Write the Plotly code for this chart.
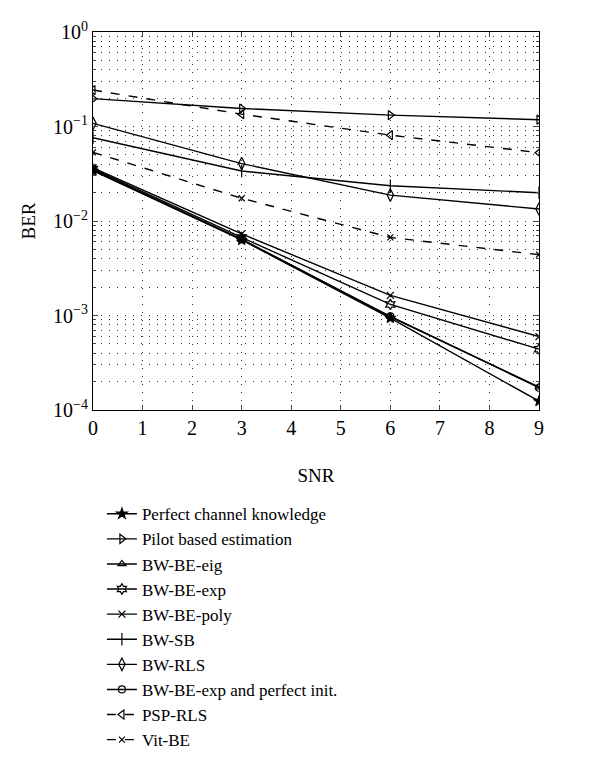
import plotly.graph_objects as go

snr = [0, 3, 6, 9]
perfect = [0.034, 0.0063, 0.00094, 0.000124]
pilot = [0.197, 0.155, 0.132, 0.118]
bw_be_eig = [0.0345, 0.0064, 0.00097, 0.000175]
bw_be_exp = [0.0355, 0.0067, 0.00131, 0.000440]
bw_be_poly = [0.0365, 0.0073, 0.00163, 0.000598]
bw_sb = [0.076, 0.0338, 0.0236, 0.0199]
bw_rls = [0.108, 0.0405, 0.0188, 0.0134]
bw_be_exp_init = [0.0345, 0.0064, 0.00098, 0.000172]
psp_rls = [0.243, 0.135, 0.081, 0.0528]
vit_be = [0.0533, 0.0174, 0.0067, 0.0044]

names = ["Perfect channel knowledge", "Pilot based estimation", "BW-BE-eig",
         "BW-BE-exp", "BW-BE-poly", "BW-SB", "BW-RLS",
         "BW-BE-exp and perfect init.", "PSP-RLS", "Vit-BE"]
series = [perfect, pilot, bw_be_eig, bw_be_exp, bw_be_poly, bw_sb, bw_rls,
          bw_be_exp_init, psp_rls, vit_be]
symbols = ["star", "triangle-right-open", "triangle-up-open", "hexagram-open",
           "x-thin-open", "line-ns-open", "diamond-tall-open", "circle-open",
           "triangle-left-open", "x-thin-open"]
sizes = [8, 8, 7, 8, 7, 9, 9, 7, 8, 6]
dashes = ["solid"] * 8 + ["dash", "dash"]

y_tickvals = [1e-4, 1e-3, 1e-2, 1e-1, 1]
y_ticktext = ["10<sup>\u22124</sup>", "10<sup>\u22123</sup>", "10<sup>\u22122</sup>",
              "10<sup>\u22121</sup>", "10<sup>0</sup>"]

fig = go.Figure()
for n, s, sym, sz, d in zip(names, series, symbols, sizes, dashes):
    fig.add_trace(go.Scatter(
        x=snr, y=s, name=n, mode="lines+markers",
        line=dict(color="black", width=1.4, dash=d),
        marker=dict(symbol=sym, size=sz, color="black",
                    line=dict(color="black", width=1.2)),
    ))

font_family = "Liberation Serif, Times New Roman, serif"
grid_dash = "1px,7px"
grid_color = "#333"
fig.update_layout(
    width=600, height=766,
    paper_bgcolor="white", plot_bgcolor="white",
    margin=dict(l=85, r=69, t=24, b=364, autoexpand=False),
    font=dict(family=font_family, size=20, color="black"),
    showlegend=True,
    legend=dict(x=0.02, y=-0.228, xanchor="left", yanchor="top",
                font=dict(family=font_family, size=17, color="black"),
                bgcolor="rgba(0,0,0,0)", tracegroupgap=0),
    xaxis=dict(range=[0, 9], dtick=1, tick0=0, ticks="inside", ticklen=5,
               showline=True, linecolor="black", linewidth=1.2, mirror="ticks",
               showgrid=True, gridcolor=grid_color, gridwidth=1, griddash=grid_dash,
               zeroline=False, tickfont=dict(size=20), automargin=False,
               title=dict(text="SNR", font=dict(size=19), standoff=30)),
    yaxis=dict(type="log", range=[-4, 0], tickvals=y_tickvals, ticktext=y_ticktext,
               ticks="inside", ticklen=5, tickfont=dict(size=20), automargin=False,
               showline=True, linecolor="black", linewidth=1.2, mirror="ticks",
               showgrid=True, gridcolor=grid_color, gridwidth=1, griddash=grid_dash,
               zeroline=False,
               minor=dict(ticks="inside", ticklen=3, dtick="D1", showgrid=True,
                          gridcolor=grid_color, gridwidth=1, griddash=grid_dash),
               title=dict(text="BER", font=dict(size=19), standoff=12)),
)

fig.write_html("out.html")
